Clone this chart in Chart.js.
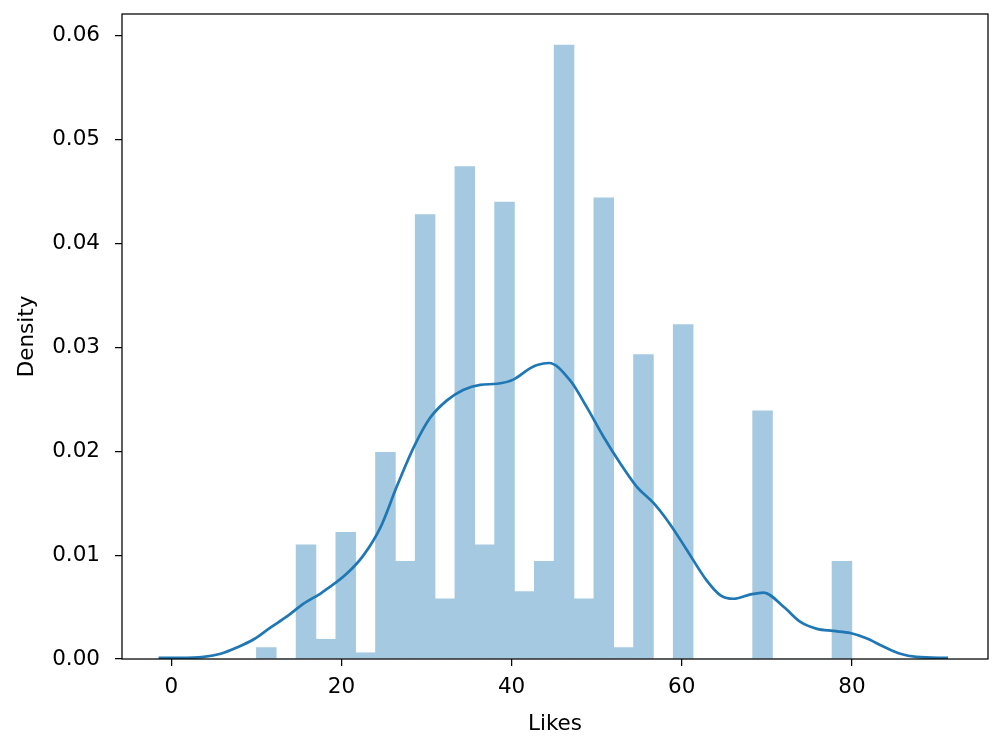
<!DOCTYPE html>
<html>
<head>
<meta charset="utf-8">
<script src="https://cdn.jsdelivr.net/npm/chart.js@4.4.1/dist/chart.umd.min.js"></script>
<style>
  html, body { margin: 0; padding: 0; background: #fff; }
  #wrap { width: 1000px; height: 750px; position: relative; }
</style>
</head>
<body>
<div id="wrap"><canvas id="chart"></canvas></div>
<script>
// Histogram bins (centres, width 7/3) and densities
const binCenters = [11.167, 13.5, 15.833, 18.167, 20.5, 22.833, 25.167, 27.5, 29.833, 32.167,
  34.5, 36.833, 39.167, 41.5, 43.833, 46.167, 48.5, 50.833, 53.167, 55.5,
  57.833, 60.167, 62.5, 64.833, 67.167, 69.5, 71.833, 74.167, 76.5, 78.833];
const binDensity = [0.0011, 0, 0.0110, 0.0019, 0.0122, 0.0006, 0.0199, 0.0094, 0.0428, 0.0058,
  0.0474, 0.0110, 0.0440, 0.0065, 0.0094, 0.0591, 0.0058, 0.0444, 0.0011, 0.0293,
  0, 0.0322, 0, 0, 0, 0.0239, 0, 0, 0, 0.0094];

// KDE curve
const kdeX = [-1.5, 1.0, 3.8, 5.8, 7.7, 9.7, 11.6, 13.6, 15.5, 17.7, 20.6, 22.6, 24.6, 26.5,
  28.5, 30.4, 32.4, 34.3, 36.3, 38.3, 40.2, 42.2, 43.0, 44.4, 46.9, 48.8, 50.8, 52.8,
  54.7, 56.7, 58.6, 60.6, 62.9, 64.6, 66.1, 68.0, 69.6, 72.0, 73.9, 75.9, 77.8, 79.8,
  81.7, 83.7, 85.7, 87.6, 91.3];
const kdeY = [0.0001, 0.0001, 0.0002, 0.0005, 0.0011, 0.0019, 0.0030, 0.0041, 0.0053, 0.0064,
  0.0082, 0.0100, 0.0127, 0.0166, 0.0204, 0.0232, 0.0249, 0.0259, 0.0264, 0.0265, 0.0269,
  0.0280, 0.0283, 0.0285, 0.0268, 0.0243, 0.0214, 0.0188, 0.0166, 0.0150, 0.0130, 0.0105,
  0.0076, 0.0061, 0.0058, 0.0062, 0.0064, 0.0050, 0.0036, 0.0029, 0.0027, 0.0025, 0.0020,
  0.0012, 0.0005, 0.0002, 0.0001];

const xTicks = [0, 20, 40, 60, 80];
const yTicks = [0, 0.01, 0.02, 0.03, 0.04, 0.05, 0.06];

Chart.defaults.font.family = "'DejaVu Sans', sans-serif";
Chart.defaults.font.size = 21.5;
Chart.defaults.color = '#000';

const frameBox = {
  id: 'frameBox',
  afterDraw(chart) {
    const { ctx, chartArea: a } = chart;
    ctx.save();
    ctx.strokeStyle = '#000';
    ctx.lineWidth = 1.25;
    ctx.strokeRect(a.left, a.top, a.right - a.left, a.bottom - a.top);
    ctx.restore();
  },
};

new Chart(document.getElementById('chart'), {
  type: 'bar',
  data: {
    datasets: [{
      type: 'line',
      order: 0,
      data: kdeX.map((x, i) => ({ x, y: kdeY[i] })),
      borderColor: '#1f77b4',
      borderWidth: 2.7,
      pointRadius: 0,
      fill: false,
      cubicInterpolationMode: 'monotone',
    }, {
      type: 'bar',
      order: 1,
      data: binCenters.map((x, i) => ({ x, y: binDensity[i] })),
      backgroundColor: '#a5c9e1',
      borderWidth: 0,
      barPercentage: 1,
      categoryPercentage: 1,
      grouped: false,
    }],
  },
  options: {
    responsive: true,
    maintainAspectRatio: false,
    animation: false,
    layout: { padding: { top: 14, right: 12, left: 0, bottom: 0 } },
    plugins: {
      legend: { display: false },
      tooltip: { enabled: false },
    },
    scales: {
      x: {
        type: 'linear',
        offset: false,
        min: -5.8,
        max: 96,
        afterBuildTicks: s => { s.ticks = xTicks.map(v => ({ value: v })); },
        afterFit: s => { s.height = 91; s.paddingLeft = 0; s.paddingRight = 0; },
        ticks: { padding: 9, maxRotation: 0, callback: v => String(v) },
        grid: { offset: false, drawOnChartArea: false, drawTicks: true, tickLength: 7, color: '#000', lineWidth: 1.25 },
        border: { display: false },
        title: { display: true, text: 'Likes', padding: { top: 0, bottom: 13 } },
      },
      y: {
        min: 0,
        max: 0.0621,
        afterBuildTicks: s => { s.ticks = yTicks.map(v => ({ value: v })); },
        afterFit: s => { s.width = 122; s.paddingTop = 0; s.paddingBottom = 0; },
        ticks: { padding: 15, callback: v => v.toFixed(2) },
        grid: { drawOnChartArea: false, drawTicks: true, tickLength: 7, color: '#000', lineWidth: 1.25 },
        border: { display: false },
        title: { display: true, text: 'Density', padding: { top: 15, bottom: 0 } },
      },
    },
  },
  plugins: [frameBox],
});
</script>
</body>
</html>
